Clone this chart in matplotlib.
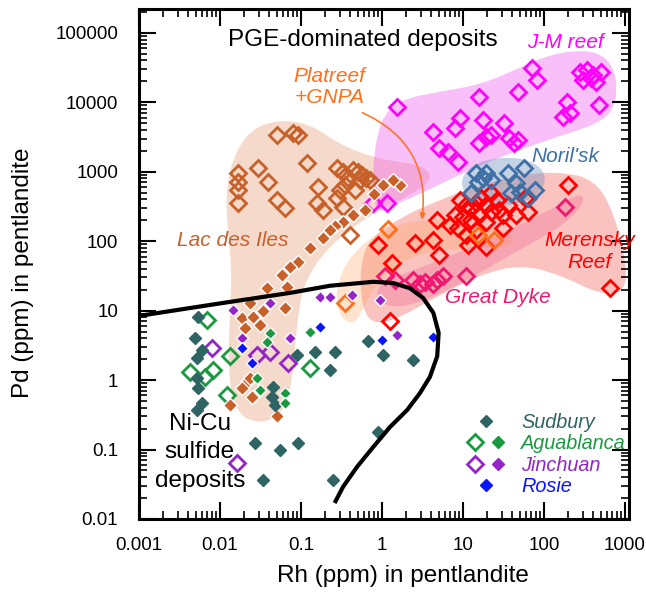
import numpy as np
import matplotlib
matplotlib.use("Agg")
import matplotlib.pyplot as plt
from matplotlib.path import Path
from matplotlib.patches import PathPatch
from matplotlib.lines import Line2D
from matplotlib.legend_handler import HandlerTuple

plt.rcParams['font.family'] = 'Liberation Sans'

# ---- data: Rh (x) and Pd (y) in pentlandite, ppm ----
lac_open_x = [0.051, 0.079, 0.092, 0.119, 0.0167, 0.0167, 0.0167, 0.0167, 0.0294, 0.039, 0.051, 0.063,
              0.162, 0.157, 0.187, 0.28, 0.33, 0.30, 0.28, 0.33, 0.46, 0.40, 0.44, 0.51, 0.57, 0.63,
              0.71, 0.53, 0.38, 0.35]
lac_open_y = [3410, 3650, 3410, 1350, 970, 718, 550, 357, 1140, 718, 395, 303,
              608, 357, 283, 1140, 1000, 550, 422, 313, 550, 124, 1070, 1000, 906, 820,
              767, 767, 820, 650]
lac_fill_x = [1.66, 1.37, 1.02, 0.8, 0.61, 0.44, 0.33, 0.26, 0.228, 0.187, 0.129, 0.092, 0.073, 0.058,
              0.038, 0.067, 0.063, 0.034, 0.0234, 0.0187, 0.0255, 0.031, 0.0203, 0.0215, 0.0187,
              0.0247, 0.0133, 0.051, 0.0234]
lac_fill_y = [650, 767, 650, 470, 283, 240, 190, 165, 146, 112, 80, 50, 43, 33,
              21, 22, 11, 10, 12.9, 7.9, 8.1, 6.2, 5.6, 0.94, 0.77,
              0.57, 0.44, 0.30, 1.08]
plat_x = [0.35, 1.18, 15.3, 24]
plat_y = [12.9, 150, 124, 105]
jm_x = [1.53, 72, 83, 48, 15.7, 9.3, 8.0, 4.2, 5.0, 6.5, 8.7, 17.6, 19.1, 15.7, 22, 32, 37, 48, 42,
        191, 170, 207, 472, 280, 344, 499, 306, 376, 433, 405, 0.78, 1.15]
jm_y = [8650, 31500, 21200, 14200, 12000, 6000, 4300, 3770, 2220, 1940, 1390, 5610, 3190, 2620, 3410,
        5080, 3090, 2890, 2620, 10200, 6200, 7080, 9230, 27600, 29500, 27600, 21200, 22600, 19800,
        25000, 357, 357]
noril_x = [14.5, 17.6, 19.1, 15.3, 12.5, 36, 56, 45, 39, 51, 78, 63, 22]
noril_y = [970, 820, 970, 718, 498, 970, 1140, 694, 498, 515, 550, 422, 767]
mer_x = [9.3, 10.8, 12.5, 14.5, 16.6, 19.1, 22, 26, 27.5, 36, 31, 8.0, 9.9, 12.5, 15.7, 19.1, 22,
         7.0, 8.7, 14.5, 10.8, 31, 45, 64, 59, 4.8, 2.56, 4.3, 5.0, 0.89, 1.32, 11.4, 19.1, 196,
         645, 1.25]
mer_y = [395, 334, 303, 357, 422, 334, 498, 395, 283, 334, 240, 240, 225, 203, 240, 190, 265,
         172, 156, 146, 124, 156, 240, 265, 422, 203, 95, 105, 64, 89, 49, 89, 83, 650,
         21, 7.0]
gd_x = [1.08, 1.44, 2.41, 3.4, 4.2, 4.8, 5.7, 10.8, 180, 2.94]
gd_y = [31, 28, 28, 26, 24, 28, 31, 31, 313, 24]
sud_x = [0.0054, 0.0049, 0.0060, 0.0052, 0.0052, 0.0054, 0.0060, 0.0052, 0.045, 0.044, 0.048, 0.089,
         0.149, 0.26, 0.228, 0.027, 0.055, 0.092, 0.034, 0.25, 1.02, 2.41, 0.89, 0.68]
sud_y = [8.1, 4.1, 2.7, 2.1, 1.08, 0.77, 0.47, 0.37, 0.80, 0.57, 0.44, 2.3,
         2.5, 2.5, 1.40, 0.124, 0.099, 0.124, 0.036, 0.036, 2.3, 1.95, 0.18, 3.6]
agua_open_x = [0.0069, 0.0043, 0.0082, 0.0133, 0.0122, 0.129, 0.0065]
agua_open_y = [7.4, 1.31, 1.40, 2.2, 0.61, 1.50, 1.11]
agua_fill_x = [0.041, 0.129, 0.029, 0.063, 0.063, 0.031, 0.038]
agua_fill_y = [4.8, 5.0, 1.08, 0.65, 0.47, 0.72, 3.5]
jin_open_x = [0.0080, 0.029, 0.041, 0.069, 0.0162]
jin_open_y = [2.9, 2.3, 2.5, 1.77, 0.064]
jin_fill_x = [0.0145, 0.041, 0.073, 0.0187, 0.171, 0.228, 0.42, 0.94, 1.53]
jin_fill_y = [10.3, 12.9, 4.1, 4.1, 15.8, 15.8, 16.9, 14.3, 4.5]
rosie_x = [0.171, 0.0187, 0.0247, 1.00, 4.2]
rosie_y = [5.8, 2.9, 1.77, 3.8, 4.2]

# Ni-Cu sulfide field boundary
nicu_x = [0.001, 0.0109, 0.073, 0.228, 0.78, 1.37, 2.21, 3.2, 4.3, 5.0, 4.8, 3.9, 2.94, 2.04, 1.25,
          0.78, 0.49, 0.33, 0.26]
nicu_y = [8.4, 12.9, 18.0, 22.8, 26, 25, 21, 15.3, 9.3, 4.8, 2.2, 1.11, 0.65, 0.37, 0.21,
          0.109, 0.056, 0.029, 0.017]

# shaded deposit fields (outline vertices)
lac_reg_x = [0.052, 0.129, 0.30, 0.94, 3.1, 4.3, 2.56, 0.71, 0.228, 0.112, 0.089, 0.079, 0.060,
             0.0294, 0.0153, 0.0125, 0.0133, 0.014, 0.0125, 0.0118, 0.014, 0.0234]
lac_reg_y = [5600, 4900, 2450, 1490, 1260, 820, 498, 240, 89, 28, 7.4, 1.0, 0.32,
             0.23, 0.35, 1.4, 10.3, 39, 124, 466, 1490, 4030]
plat_reg_x = [0.30, 0.26, 0.40, 1.08, 3.9, 16.6, 45, 39, 9.3, 2.56, 1.02, 0.61, 0.46]
plat_reg_y = [7.9, 20, 64, 156, 217, 172, 124, 80, 80, 64, 33, 12.1, 6.2]
jm_reg_x = [0.82, 0.75, 0.94, 1.66, 5.2, 16.6, 51, 117, 325, 609, 805, 743, 433, 135, 34, 10.8, 3.4, 1.44]
jm_reg_y = [240, 1070, 5610, 10900, 14200, 18000, 31500, 48500, 57300, 44000, 21200, 7820, 4750,
            3090, 1760, 1000, 515, 334]
noril_reg_x = [8.7, 12.5, 29, 68, 110, 89, 39, 14.5]
noril_reg_y = [650, 1260, 1640, 1490, 906, 466, 313, 334]
mer_reg_x = [0.67, 1.66, 5.2, 16.6, 51, 156, 433, 743, 1050, 990, 499, 156, 51, 16.6, 5.2, 1.66,
             0.82, 0.57, 0.53]
mer_reg_y = [105, 217, 395, 650, 906, 1000, 767, 240, 46, 18.7, 16.9, 33, 46, 33, 16.9, 7.9,
             6.2, 10.3, 39]
gd_reg_x = [0.82, 0.94, 3.9, 29, 156, 280, 325, 180, 39, 7.0, 1.66]
gd_reg_y = [14.3, 26, 46, 124, 334, 498, 370, 172, 64, 20, 10.3]

arrow_start = (0.57, 7080)
arrow_end = (3.1, 203)

x_ticks = [0.001, 0.01, 0.1, 1, 10, 100, 1000]
x_tick_labels = ['0.001', '0.01', '0.1', '1', '10', '100', '1000']
y_ticks = [0.01, 0.1, 1, 10, 100, 1000, 10000, 100000]
y_tick_labels = ['0.01', '0.1', '1', '10', '100', '1000', '10000', '100000']

# colours
c_lac = '#C8602A'
c_plat = '#FF6F1A'
c_jm = '#FF00FF'
c_noril = '#3E6FA5'
c_mer = '#FF0000'
c_gd = '#F0186E'
c_sud = '#2F6464'
c_agua = '#1A9A40'
c_jin = '#9224C8'
c_rosie = '#0A14FF'

fig = plt.figure(figsize=(6.46, 5.96), dpi=100)
ax = fig.add_axes([0.2152, 0.1292, 0.7585, 0.8557])
ax.set_xscale('log')
ax.set_yscale('log')


def blob(xs, ys, color, alpha, z):
    # closed smooth outline: quadratic curves through edge midpoints (log space)
    xs = np.asarray(xs, float)
    ys = np.asarray(ys, float)
    lx, ly = np.log10(xs), np.log10(ys)
    mx = 10 ** ((lx + np.roll(lx, -1)) / 2)
    my = 10 ** ((ly + np.roll(ly, -1)) / 2)
    verts = [(mx[-1], my[-1])]
    codes = [Path.MOVETO]
    for i in range(len(xs)):
        verts += [(xs[i], ys[i]), (mx[i], my[i])]
        codes += [Path.CURVE3, Path.CURVE3]
    ax.add_patch(PathPatch(Path(verts, codes), facecolor=color, edgecolor='none',
                           alpha=alpha, zorder=z))


blob(lac_reg_x, lac_reg_y, '#E8A27C', 0.40, 1)
blob(jm_reg_x, jm_reg_y, '#F060F0', 0.40, 1.1)
blob(mer_reg_x, mer_reg_y, '#F57B73', 0.45, 1.2)
blob(plat_reg_x, plat_reg_y, '#FFA560', 0.30, 1.3)
blob(gd_reg_x, gd_reg_y, '#F06A9A', 0.35, 1.4)
blob(noril_reg_x, noril_reg_y, '#6C8FBF', 0.40, 1.5)

OPEN_MS = 7.8
FILL_MS = 6.4


def open_pts(xs, ys, color, z=3):
    ax.plot(xs, ys, 'D', ls='none', ms=OPEN_MS, mfc='none', mec=color, mew=2.0, zorder=z)


def fill_pts(xs, ys, color, ms=FILL_MS, edge='white', z=3.5):
    ax.plot(xs, ys, 'D', ls='none', ms=ms, mfc=color, mec=edge, mew=1.0, zorder=z)


open_pts(lac_open_x, lac_open_y, c_lac)
fill_pts(lac_fill_x, lac_fill_y, c_lac, ms=6.8)
open_pts(jm_x, jm_y, c_jm)
open_pts(mer_x, mer_y, c_mer)
open_pts(gd_x, gd_y, c_gd)
open_pts(noril_x, noril_y, c_noril)
open_pts(plat_x, plat_y, c_plat)
fill_pts(sud_x, sud_y, c_sud, ms=6.0, edge=c_sud)
open_pts(agua_open_x, agua_open_y, c_agua)
fill_pts(agua_fill_x, agua_fill_y, c_agua)
open_pts(jin_open_x, jin_open_y, c_jin)
fill_pts(jin_fill_x, jin_fill_y, c_jin)
fill_pts(rosie_x, rosie_y, c_rosie)

ax.plot(nicu_x, nicu_y, color='black', lw=3, solid_capstyle='butt', zorder=5)

ax.annotate('', xy=arrow_end, xytext=arrow_start,
            arrowprops=dict(arrowstyle='-|>,head_length=0.35,head_width=0.15', color=c_plat,
                            lw=1.1, shrinkA=0, shrinkB=0, connectionstyle='arc3,rad=-0.37'),
            zorder=6)

# labels
T = ax.transAxes
ax.text(0.457, 0.939, 'PGE-dominated deposits', ha='center', va='center', fontsize=17.5, transform=T, zorder=7)
ax.text(0.388, 0.847, 'Platreef\n+GNPA', ha='center', va='center', fontsize=15, style='italic',
        color=c_plat, linespacing=1.12, transform=T, zorder=7)
ax.text(0.871, 0.935, 'J-M reef', ha='center', va='center', fontsize=15, style='italic', color=c_jm, transform=T, zorder=7)
ax.text(0.871, 0.710, "Noril'sk", ha='center', va='center', fontsize=15, style='italic', color=c_noril, transform=T, zorder=7)
ax.text(0.920, 0.525, 'Merensky\nReef', ha='center', va='center', fontsize=15, style='italic', color=c_mer,
        linespacing=1.17, transform=T, zorder=7)
ax.text(0.733, 0.435, 'Great Dyke', ha='center', va='center', fontsize=15, style='italic', color=c_gd, transform=T, zorder=7)
ax.text(0.192, 0.547, 'Lac des Iles', ha='center', va='center', fontsize=15, style='italic', color=c_lac, transform=T, zorder=7)
ax.text(0.124, 0.131, 'Ni-Cu\nsulfide\ndeposits', ha='center', va='center', fontsize=17.5,
        linespacing=1.38, transform=T, zorder=7)

# legend
h_sud = Line2D([], [], ls='none', marker='D', ms=6.0, color=c_sud)
h_agua = (Line2D([], [], ls='none', marker='D', ms=OPEN_MS, mfc='none', mec=c_agua, mew=2.0),
          Line2D([], [], ls='none', marker='D', ms=FILL_MS, color=c_agua))
h_jin = (Line2D([], [], ls='none', marker='D', ms=OPEN_MS, mfc='none', mec=c_jin, mew=2.0),
         Line2D([], [], ls='none', marker='D', ms=FILL_MS, color=c_jin))
h_rosie = Line2D([], [], ls='none', marker='D', ms=FILL_MS, color=c_rosie)
ax.legend([h_sud, h_agua, h_jin, h_rosie], ['Sudbury', 'Aguablanca', 'Jinchuan', 'Rosie'],
          handler_map={tuple: HandlerTuple(ndivide=None, pad=0)},
          loc='lower left', bbox_to_anchor=(0.662, 0.045), frameon=False,
          prop={'style': 'italic', 'size': 14.3},
          labelcolor=[c_sud, c_agua, c_jin, c_rosie],
          handlelength=2.3, handletextpad=0.6, labelspacing=0.12, borderpad=0, borderaxespad=0)

# axes
ax.set_xlim(0.001, 1120)
ax.set_ylim(0.01, 2.2e5)
ax.set_xticks(x_ticks)
ax.set_xticklabels(x_tick_labels)
ax.set_yticks(y_ticks)
ax.set_yticklabels(y_tick_labels)
ax.tick_params(which='both', direction='in', top=True, right=True, labelsize=13.5)
ax.tick_params(which='major', length=12, width=1.5)
ax.tick_params(which='minor', length=6, width=1.2)
ax.tick_params(axis='x', which='major', pad=13)
ax.tick_params(axis='y', which='major', pad=15)
for s in ax.spines.values():
    s.set_linewidth(2.2)

ax.set_xlabel('Rh (ppm) in pentlandite', fontsize=17.5)
ax.set_ylabel('Pd (ppm) in pentlandite', fontsize=17.5)
ax.xaxis.set_label_coords(0.539, -0.090)
ax.yaxis.set_label_coords(-0.214, 0.482)

fig.savefig('out.png', dpi=100)
